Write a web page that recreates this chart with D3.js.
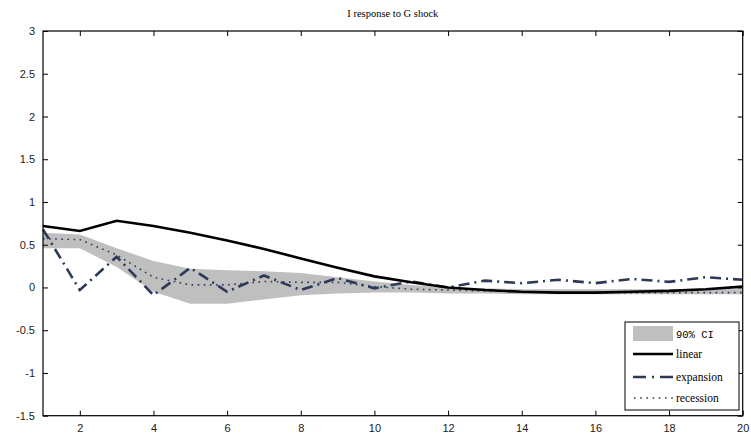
<!DOCTYPE html>
<html><head><meta charset="utf-8">
<script src="https://cdn.jsdelivr.net/npm/d3@7"></script>
<style>body{margin:0;background:#fff}svg{display:block}</style>
</head><body>
<script>
const periods = d3.range(1, 21);
const linear    = [0.72,0.66,0.78,0.72,0.64,0.55,0.45,0.34,0.23,0.13,0.06,0.00,-0.03,-0.05,-0.06,-0.06,-0.05,-0.04,-0.02,0.01];
const expansion = [0.68,-0.03,0.36,-0.09,0.23,-0.05,0.14,-0.03,0.11,-0.01,0.07,0.00,0.08,0.05,0.09,0.05,0.10,0.065,0.12,0.09];
const recession = [0.57,0.56,0.38,0.12,0.03,0.03,0.07,0.06,0.06,0.01,-0.02,-0.03,-0.04,-0.05,-0.06,-0.06,-0.06,-0.06,-0.06,-0.06];
const ciUpper   = [0.64,0.62,0.46,0.31,0.22,0.20,0.19,0.17,0.12,0.07,0.03,0.00,-0.01,-0.02,-0.02,-0.02,-0.02,-0.02,-0.02,-0.02];
const ciLower   = [0.46,0.46,0.24,-0.05,-0.19,-0.19,-0.14,-0.09,-0.07,-0.06,-0.06,-0.07,-0.07,-0.08,-0.08,-0.08,-0.08,-0.08,-0.08,-0.08];
const xTicks = [2,4,6,8,10,12,14,16,18,20];
const yTicks = [-1.5,-1,-0.5,0,0.5,1,1.5,2,2.5,3];
const title = "I response to G shock";
const legendLabels = ["90% CI","linear","expansion","recession"];

const W = 751, H = 434;
const L = 43, R = 742.7, T = 31, B = 415.7;
const svg = d3.select("body").append("svg").attr("width", W).attr("height", H);
const x = d3.scaleLinear().domain([1,20]).range([L,R]);
const y = d3.scaleLinear().domain([-1.5,3]).range([B,T]);
const navy = "#2c3a55";

// CI band
svg.append("path")
  .datum(periods.map((p,i)=>({p, lo:ciLower[i], hi:ciUpper[i]})))
  .attr("fill","#bfbfbf")
  .attr("d", d3.area().x(d=>x(d.p)).y0(d=>y(d.lo)).y1(d=>y(d.hi)));

const line = d3.line().x((d,i)=>x(periods[i])).y(d=>y(d));
svg.append("path").datum(recession).attr("fill","none").attr("stroke",navy)
  .attr("stroke-width",1.6).attr("stroke-dasharray","1.6,4.5").attr("d",line);
svg.append("path").datum(expansion).attr("fill","none").attr("stroke",navy)
  .attr("stroke-width",2.6).attr("stroke-dasharray","11,5,2,5").attr("d",line);
svg.append("path").datum(linear).attr("fill","none").attr("stroke","#000")
  .attr("stroke-width",2.6).attr("d",line);

// axes
const tickFont = "'Liberation Sans', Arial, sans-serif";
const gx = svg.append("g").attr("transform",`translate(0,${B})`)
  .call(d3.axisBottom(x).tickValues(xTicks).tickSizeInner(-5).tickSizeOuter(0).tickPadding(9).tickFormat(d3.format("d")));
const gxt = svg.append("g").attr("transform",`translate(0,${T})`)
  .call(d3.axisTop(x).tickValues(xTicks).tickSizeInner(-5).tickSizeOuter(0).tickFormat(""));
const gy = svg.append("g").attr("transform",`translate(${L},0)`)
  .call(d3.axisLeft(y).tickValues(yTicks).tickSizeInner(-5).tickSizeOuter(0).tickPadding(8).tickFormat(d=>String(d)));
const gyr = svg.append("g").attr("transform",`translate(${R},0)`)
  .call(d3.axisRight(y).tickValues(yTicks).tickSizeInner(-5).tickSizeOuter(0).tickFormat(""));
[gx,gxt,gy,gyr].forEach(g=>{
  g.select(".domain").remove();
  g.selectAll("line").attr("stroke","#000").attr("stroke-width",1);
  g.selectAll("text").attr("font-family",tickFont).attr("font-size",11).attr("fill","#222");
});
svg.append("rect").attr("x",L).attr("y",T).attr("width",R-L).attr("height",B-T)
  .attr("fill","none").attr("stroke","#000").attr("stroke-width",1.2);

svg.append("text").attr("x",(L+R)/2).attr("y",17).attr("text-anchor","middle")
  .attr("font-family","'Liberation Serif', 'Times New Roman', serif").attr("font-size",10.5)
  .attr("fill","#000").text(title);

// legend
const lg = svg.append("g");
lg.append("rect").attr("x",625).attr("y",322).attr("width",114).attr("height",88)
  .attr("fill","#fff").attr("stroke","#000").attr("stroke-width",1);
const rowsY = [334, 354, 377, 398];
lg.append("rect").attr("x",633).attr("y",326).attr("width",40).attr("height",15).attr("fill","#bfbfbf");
lg.append("line").attr("x1",633).attr("x2",673).attr("y1",rowsY[1]).attr("y2",rowsY[1])
  .attr("stroke","#000").attr("stroke-width",2.6);
lg.append("line").attr("x1",633).attr("x2",673).attr("y1",rowsY[2]).attr("y2",rowsY[2])
  .attr("stroke",navy).attr("stroke-width",2.6).attr("stroke-dasharray","13,6,2,6");
lg.append("line").attr("x1",634).attr("x2",673).attr("y1",rowsY[3]).attr("y2",rowsY[3])
  .attr("stroke",navy).attr("stroke-width",1.6).attr("stroke-dasharray","1.6,4.6");
legendLabels.forEach((t,i)=>{
  lg.append("text").attr("x",676).attr("y",rowsY[i]+4)
    .attr("font-family", i===0 ? "'Liberation Mono', 'Courier New', monospace" : "'Liberation Serif', 'Times New Roman', serif")
    .attr("font-size", i===0 ? 10.5 : 11.5).attr("fill","#000").text(t);
});
</script>
</body></html>
